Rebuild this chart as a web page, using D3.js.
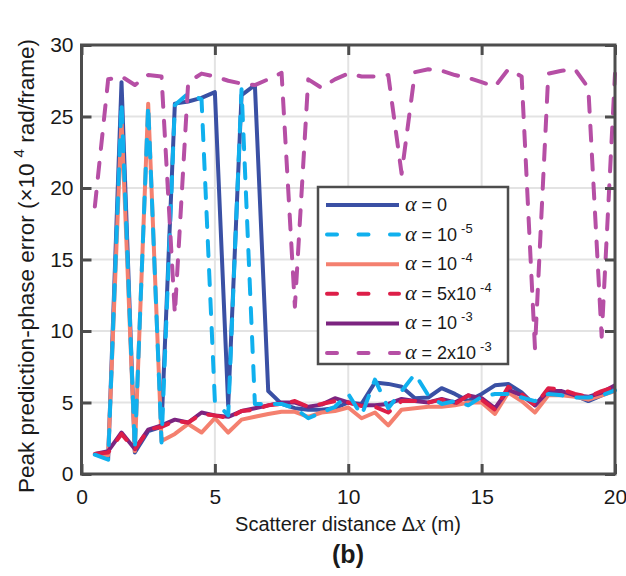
<!DOCTYPE html>
<html><head><meta charset="utf-8">
<script src="https://cdn.jsdelivr.net/npm/d3@7"></script>
<style>
body{margin:0;background:#fff}
svg{display:block}
text{font-family:"Liberation Sans",Arial,Helvetica,sans-serif;fill:#1a1a1a}
</style>
</head><body>
<svg id="chart" width="626" height="576"></svg>
<script>
// ---- data ----
const distance = [0.5,1,1.5,2,2.5,3,3.5,4,4.5,5,5.5,6,6.5,7,7.5,8,8.5,9,9.5,10,
                  10.5,11,11.5,12,12.5,13,13.5,14,14.5,15,15.5,16,16.5,17,17.5,18,18.5,19,19.5,20];
const alpha0 = [1.4,1.1,27.4,1.5,3.0,3.3,25.9,26.05,26.3,26.7,4.8,26.5,27.2,5.8,4.9,4.6,4.5,4.5,4.6,5.0,
                4.9,6.4,6.3,6.1,5.3,5.35,6.0,5.6,5.1,5.6,6.2,6.3,5.7,4.8,5.9,5.7,5.5,5.1,5.5,5.9];
const alpha1e5 = [1.35,1.0,26.0,1.7,25.8,2.2,25.8,26.6,26.2,5.1,4.1,26.9,4.9,4.9,4.9,4.6,3.9,4.3,4.7,5.6,
                4.1,6.6,4.6,5.8,7.0,5.5,4.9,5.1,4.8,5.4,5.6,5.6,5.35,5.1,5.6,5.5,5.35,5.35,5.5,5.85];
const alpha1e4 = [1.4,1.3,24.8,1.6,25.9,2.3,2.8,3.5,2.9,3.9,2.9,3.8,4.0,4.2,4.35,4.35,4.0,4.3,4.4,4.65,
                3.9,4.3,3.4,4.5,4.6,4.7,4.7,4.8,5.0,5.0,4.2,5.7,5.1,4.3,5.5,5.5,5.4,5.2,5.5,5.8];
const alpha5e4 = [1.4,1.5,2.8,1.7,3.1,3.3,3.7,3.6,4.2,4.1,3.9,4.4,4.5,4.8,4.9,5.1,4.7,4.9,5.1,5.0,
                4.75,4.7,4.3,5.1,5.1,5.0,5.2,4.9,5.5,5.2,4.5,6.1,5.6,4.8,6.0,5.9,5.6,5.4,5.8,6.1];
const alpha1e3 = [1.4,1.6,2.9,1.75,3.1,3.4,3.8,3.6,4.3,4.1,4.0,4.4,4.6,4.8,5.0,5.0,4.7,4.85,5.3,5.0,
                4.8,4.8,4.9,5.25,5.1,5.0,5.25,5.0,5.5,5.3,4.6,5.9,5.5,4.8,5.8,5.8,5.5,5.4,5.7,6.2];
const alpha2e3 = [18.7,27.6,27.8,27.2,27.9,27.8,11.2,27.4,28.0,27.8,27.5,27.3,27.2,27.6,28.05,11.7,27.6,27.0,27.6,28.0,
                27.8,27.8,27.9,21.0,28.1,28.3,28.2,27.9,27.7,27.4,27.1,28.3,27.8,8.8,28.0,28.2,28.3,27.0,9.6,28.0];
const xTicks = [0,5,10,15,20];
const yTicks = [0,5,10,15,20,25,30];
const legendBase = ["10","10","5x10","10","2x10"];
const legendExp  = ["-5","-4","-4","-3","-3"];

// ---- styles ----
const series = [
  {name:"0",    values:alpha0,   color:"#3a50a4", dash:null, leg:0},
  {name:"1e-4", values:alpha1e4, color:"#f4806f", dash:null, leg:2},
  {name:"1e-3", values:alpha1e3, color:"#7c2480", dash:null, leg:4},
  {name:"5e-4", values:alpha5e4, color:"#dd1e48", dash:"15,14", leg:3},
  {name:"1e-5", values:alpha1e5, color:"#10b0ee", dash:"15,14", leg:1},
  {name:"2e-3", values:alpha2e3, color:"#b64fa5", dash:"15,14", leg:5}
];

const W = 626, H = 576;
const m = {l:81.5, r:11, t:45, b:102};
const svg = d3.select("#chart");
const x = d3.scaleLinear().domain([0,20]).range([m.l, W-m.r]);
const y = d3.scaleLinear().domain([0,30]).range([H-m.b, m.t]);
const axisColor = "#4d4d4d";

// grid
const g = svg.append("g");
g.selectAll(".gx").data(xTicks.slice(1,-1)).join("line")
  .attr("x1",d=>x(d)).attr("x2",d=>x(d)).attr("y1",y(0)).attr("y2",y(30))
  .attr("stroke","#e3e3e3").attr("stroke-width",2);
g.selectAll(".gy").data(yTicks.slice(1,-1)).join("line")
  .attr("y1",d=>y(d)).attr("y2",d=>y(d)).attr("x1",x(0)).attr("x2",x(20))
  .attr("stroke","#e3e3e3").attr("stroke-width",2);

// lines
const line = d3.line().x((d,i)=>x(distance[i])).y(d=>y(d));
const plot = svg.append("g");
series.forEach(s=>{
  plot.append("path").datum(s.values)
    .attr("d",line).attr("fill","none")
    .attr("stroke",s.color).attr("stroke-width",4)
    .attr("stroke-linejoin","round")
    .attr("stroke-linecap",s.dash?"round":"butt")
    .attr("stroke-dasharray",s.dash);
});

// axes
function styleAxis(sel, labels){
  sel.select(".domain").remove();
  sel.selectAll(".tick line").attr("stroke",axisColor).attr("stroke-width",3);
  if(labels){ sel.selectAll(".tick text").attr("font-size",21).attr("fill","#1a1a1a")
    .style("font-family",'"Liberation Sans",Arial,sans-serif'); }
  else sel.selectAll(".tick text").remove();
}
svg.append("g").attr("transform",`translate(0,${y(0)})`)
  .call(d3.axisBottom(x).tickValues(xTicks).tickSize(-10).tickPadding(15).tickFormat(d3.format("d")))
  .call(s=>styleAxis(s,true));
svg.append("g").attr("transform",`translate(0,${y(30)})`)
  .call(d3.axisTop(x).tickValues(xTicks).tickSize(-10))
  .call(s=>styleAxis(s,false));
svg.append("g").attr("transform",`translate(${x(0)},0)`)
  .call(d3.axisLeft(y).tickValues(yTicks).tickSize(-10).tickPadding(8).tickFormat(d3.format("d")))
  .call(s=>styleAxis(s,true));
svg.append("g").attr("transform",`translate(${x(20)},0)`)
  .call(d3.axisRight(y).tickValues(yTicks).tickSize(-10))
  .call(s=>styleAxis(s,false));

// frame
svg.append("rect").attr("x",x(0)).attr("y",y(30)).attr("width",x(20)-x(0)).attr("height",y(0)-y(30))
  .attr("fill","none").attr("stroke",axisColor).attr("stroke-width",3);

// legend
const lg = svg.append("g");
lg.append("rect").attr("x",318).attr("y",187).attr("width",190).attr("height",177)
  .attr("fill","#fff").attr("stroke",axisColor).attr("stroke-width",2.5);
const legOrder = series.slice().sort((a,b)=>a.leg-b.leg);
legOrder.forEach((s,i)=>{
  const yy = 205 + i*29.6;
  lg.append("line").attr("x1",326).attr("x2",399).attr("y1",yy).attr("y2",yy)
    .attr("stroke",s.color).attr("stroke-width",4)
    .attr("stroke-linecap",s.dash?"round":"butt")
    .attr("stroke-dasharray",s.dash?"10,21.5":null)
    .attr("stroke-dashoffset",s.dash?-1:null);
  const t = lg.append("text").attr("x",405).attr("y",yy+6).attr("font-size",18);
  t.append("tspan").text("α").style("font-family",'"Liberation Serif","DejaVu Serif",serif').style("font-style","italic").attr("font-size",22);
  if(i===0){ t.append("tspan").text(" = 0"); }
  else {
    t.append("tspan").text(" = "+legendBase[i-1]);
    t.append("tspan").text(legendExp[i-1]).attr("font-size",13).attr("dy",-8).attr("dx",4);
  }
});

// axis labels
svg.append("text").attr("x",348).attr("y",531).attr("text-anchor","middle").attr("font-size",20)
  .call(t=>{
    t.append("tspan").text("Scatterer distance Δ");
    t.append("tspan").text("x").style("font-family",'"Liberation Serif","DejaVu Serif",serif').style("font-style","italic").attr("font-size",23);
    t.append("tspan").text(" (m)");
  });
svg.append("text").attr("x",348).attr("y",563).attr("text-anchor","middle").attr("font-size",25)
  .attr("font-weight","bold").text("(b)");
svg.append("text").attr("transform","translate(34,266) rotate(-90)").attr("text-anchor","middle").attr("font-size",22.5)
  .call(t=>{
    t.append("tspan").text("Peak prediction-phase error  (×10");
    t.append("tspan").text("4").attr("font-size",15).attr("dy",-10).attr("dx",6);
    t.append("tspan").text(" rad/frame)").attr("dy",10);
  });
</script>
</body></html>
